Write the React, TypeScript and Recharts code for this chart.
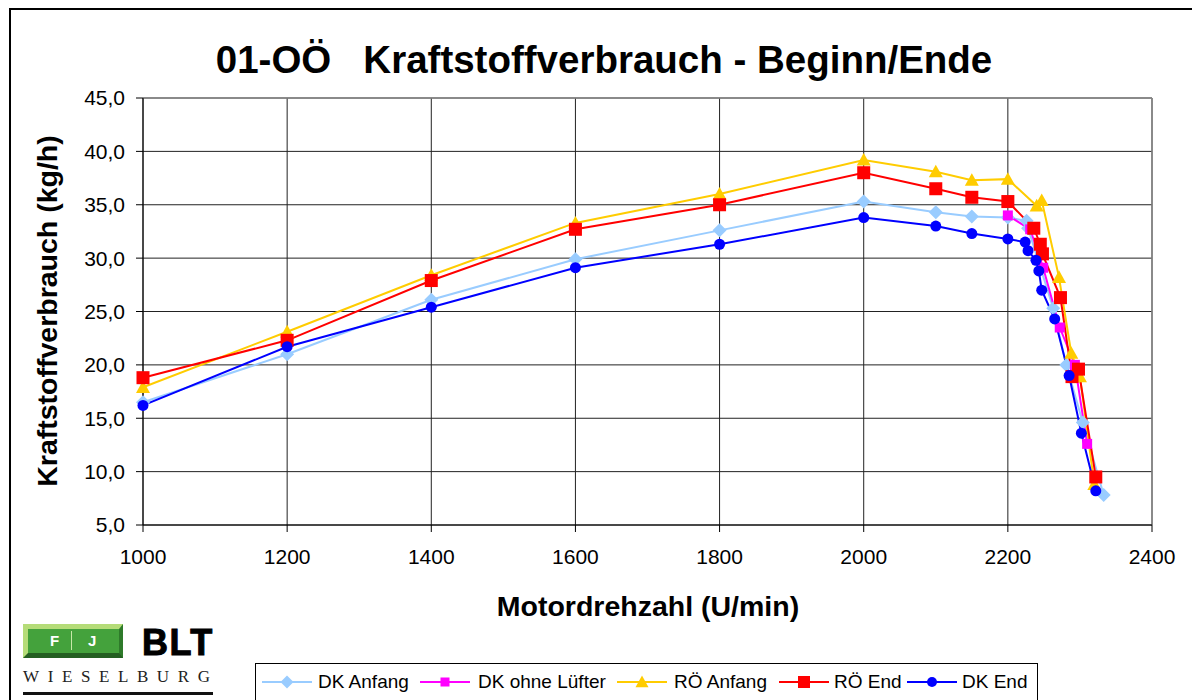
import { LineChart, Line, XAxis, YAxis, CartesianGrid, ReferenceLine } from 'recharts';

// Motor speed (U/min) and fuel consumption (kg/h) per series
const dkAnfangRpm = [1000, 1200, 1400, 1600, 1800, 2000, 2100, 2150, 2200, 2226, 2228, 2263, 2281, 2304, 2333];
const dkAnfangKgh = [16.5, 21.0, 26.1, 29.9, 32.6, 35.3, 34.3, 33.9, 33.8, 33.5, 32.8, 25.3, 20.0, 14.6, 7.8];

const dkOhneRpm = [2200, 2231, 2249, 2272, 2293, 2310];
const dkOhneKgh = [34.0, 32.7, 29.1, 23.5, 20.0, 12.6];

const roAnfangRpm = [1000, 1200, 1400, 1600, 1800, 2000, 2100, 2150, 2200, 2240, 2247, 2271, 2288, 2300, 2320];
const roAnfangKgh = [17.9, 23.1, 28.4, 33.3, 36.0, 39.2, 38.1, 37.3, 37.4, 34.9, 35.4, 28.2, 21.1, 18.9, 8.8];

const roEndRpm = [1000, 1200, 1400, 1600, 1800, 2000, 2100, 2150, 2200, 2236, 2245, 2248, 2273, 2289, 2298, 2322];
const roEndKgh = [18.8, 22.3, 27.9, 32.7, 35.0, 38.0, 36.5, 35.7, 35.3, 32.8, 31.3, 30.4, 26.3, 18.9, 19.6, 9.5];

const dkEndRpm = [1000, 1200, 1400, 1600, 1800, 2000, 2100, 2150, 2200, 2224, 2228, 2239, 2243, 2247, 2265, 2285, 2302, 2322];
const dkEndKgh = [16.2, 21.7, 25.4, 29.1, 31.3, 33.8, 33.0, 32.3, 31.8, 31.5, 30.7, 29.8, 28.8, 27.0, 24.3, 19.0, 13.6, 8.2];

const xTicks = [1000, 1200, 1400, 1600, 1800, 2000, 2200, 2400];
const yTicks = [5, 10, 15, 20, 25, 30, 35, 40, 45];

const zip = (xs: number[], ys: number[]) => xs.map((x, i) => ({ x, y: ys[i] }));

type Shape = 'diamond' | 'square' | 'triangle' | 'circle';

function marker(shape: Shape, cx: number, cy: number, size: number, color: string, key?: string | number) {
  const h = size / 2;
  if (shape === 'diamond')
    return <polygon key={key} points={`${cx},${cy - h} ${cx + h},${cy} ${cx},${cy + h} ${cx - h},${cy}`} fill={color} />;
  if (shape === 'square')
    return <rect key={key} x={cx - h} y={cy - h} width={size} height={size} fill={color} />;
  if (shape === 'triangle')
    return <polygon key={key} points={`${cx},${cy - h} ${cx + h},${cy + h * 0.8} ${cx - h},${cy + h * 0.8}`} fill={color} />;
  return <circle key={key} cx={cx} cy={cy} r={h} fill={color} />;
}

const series = [
  { name: 'DK Anfang', data: zip(dkAnfangRpm, dkAnfangKgh), color: '#99CCFF', shape: 'diamond' as Shape, size: 14 },
  { name: 'DK ohne Lüfter', data: zip(dkOhneRpm, dkOhneKgh), color: '#FF00FF', shape: 'square' as Shape, size: 10 },
  { name: 'RÖ Anfang', data: zip(roAnfangRpm, roAnfangKgh), color: '#FFCC00', shape: 'triangle' as Shape, size: 14 },
  { name: 'RÖ End', data: zip(roEndRpm, roEndKgh), color: '#FF0000', shape: 'square' as Shape, size: 13 },
  { name: 'DK End', data: zip(dkEndRpm, dkEndKgh), color: '#0000FF', shape: 'circle' as Shape, size: 11 },
];

const legendPos = [
  { sample: 262, text: 318 },
  { sample: 420, text: 478 },
  { sample: 617, text: 674 },
  { sample: 779, text: 834 },
  { sample: 907, text: 962 },
];

const font = 'Arial, "Liberation Sans", sans-serif';

function Logo() {
  return (
    <div style={{ position: 'absolute', left: 23, top: 624, width: 192, height: 72 }}>
      <div
        style={{
          position: 'absolute', left: 0, top: 0, width: 100, height: 34, boxSizing: 'border-box',
          background: '#44a23c', borderTop: '5px solid #b5dc78', borderLeft: '5px solid #b5dc78',
          borderBottom: '5px solid #245f22', borderRight: '4px solid #2e7a2a',
        }}
      >
        <div style={{ position: 'absolute', left: 22, top: 3, color: '#fff', fontFamily: font, fontWeight: 'bold', fontSize: 15 }}>F</div>
        <div style={{ position: 'absolute', left: 43, top: 2, width: 1, height: 19, background: '#c8e8a8' }} />
        <div style={{ position: 'absolute', left: 60, top: 3, color: '#fff', fontFamily: font, fontWeight: 'bold', fontSize: 15 }}>J</div>
      </div>
      <div style={{ position: 'absolute', left: 119, top: 1, fontFamily: font, fontWeight: 900, fontSize: 36, letterSpacing: 1.5, lineHeight: '36px', color: '#000', WebkitTextStroke: '1px #000' }}>BLT</div>
      <div style={{ position: 'absolute', left: 0, top: 44, fontFamily: '"Liberation Serif", serif', fontSize: 17, letterSpacing: 8.6, lineHeight: '17px', color: '#222' }}>WIESELBURG</div>
      <div style={{ position: 'absolute', left: 0, top: 68, width: 190, height: 3, background: '#111' }} />
    </div>
  );
}

export default function App() {
  return (
    <div style={{ position: 'absolute', left: 0, top: 0, width: 1192, height: 700, overflow: 'hidden', background: '#fff' }}>
      <div style={{ position: 'absolute', left: 9, top: 8, width: 1220, height: 760, border: '2px solid #000' }} />

      <LineChart
        width={1192}
        height={700}
        margin={{ top: 98, right: 40, bottom: 135, left: 0 }}
        style={{ position: 'absolute', left: 0, top: 0 }}
      >
        <CartesianGrid stroke="#222" strokeWidth={1} />
        <XAxis
          type="number"
          dataKey="x"
          domain={[1000, 2400]}
          ticks={xTicks}
          height={40}
          stroke="#000"
          tickSize={7}
          tickMargin={17}
          tick={{ fontSize: 21, fill: '#000', fontFamily: font }}
          allowDuplicatedCategory={false}
        />
        <YAxis
          type="number"
          domain={[5, 45]}
          ticks={yTicks}
          width={143}
          stroke="#000"
          tickSize={7}
          tickMargin={11}
          tick={{ fontSize: 21, fill: '#000', fontFamily: font }}
          tickFormatter={(v: number) => v.toFixed(1).replace('.', ',')}
        />
        <ReferenceLine y={45} stroke="#888" strokeWidth={1.5} />
        <ReferenceLine x={2400} stroke="#888" strokeWidth={1.5} />
        {series.map((s) => (
          <Line
            key={s.name}
            data={s.data}
            dataKey="y"
            name={s.name}
            type="linear"
            stroke={s.color}
            strokeWidth={2}
            isAnimationActive={false}
            activeDot={false}
            dot={(p: any) => marker(s.shape, p.cx, p.cy, s.size, s.color, `${s.name}-${p.index}`)}
          />
        ))}
      </LineChart>

      <div
        style={{
          position: 'absolute', left: 604, top: 60, transform: 'translate(-50%, -50%)',
          fontFamily: font, fontWeight: 'bold', fontSize: 38.5, whiteSpace: 'pre', color: '#000',
        }}
      >
        {'01-OÖ   Kraftstoffverbrauch - Beginn/Ende'}
      </div>
      <div
        style={{
          position: 'absolute', left: 648, top: 606, transform: 'translate(-50%, -50%)',
          fontFamily: font, fontWeight: 'bold', fontSize: 28.5, whiteSpace: 'nowrap', color: '#000',
        }}
      >
        Motordrehzahl (U/min)
      </div>
      <div
        style={{
          position: 'absolute', left: 47, top: 311, transform: 'translate(-50%, -50%) rotate(-90deg)',
          fontFamily: font, fontWeight: 'bold', fontSize: 28.5, whiteSpace: 'nowrap', color: '#000',
        }}
      >
        Kraftstoffverbrauch (kg/h)
      </div>

      <Logo />

      <div style={{ position: 'absolute', left: 255, top: 663, width: 781, height: 60, border: '1px solid #000', background: '#fff' }} />
      {series.map((s, i) => (
        <div key={s.name}>
          <svg style={{ position: 'absolute', left: legendPos[i].sample, top: 672 }} width={52} height={20}>
            <line x1={0} y1={10} x2={50} y2={10} stroke={s.color} strokeWidth={2} />
            {marker(s.shape, 25, 10, s.size - 1, s.color)}
          </svg>
          <div
            style={{
              position: 'absolute', left: legendPos[i].text, top: 682, transform: 'translateY(-50%)',
              fontFamily: font, fontSize: 19, whiteSpace: 'nowrap', color: '#000',
            }}
          >
            {s.name}
          </div>
        </div>
      ))}
    </div>
  );
}
